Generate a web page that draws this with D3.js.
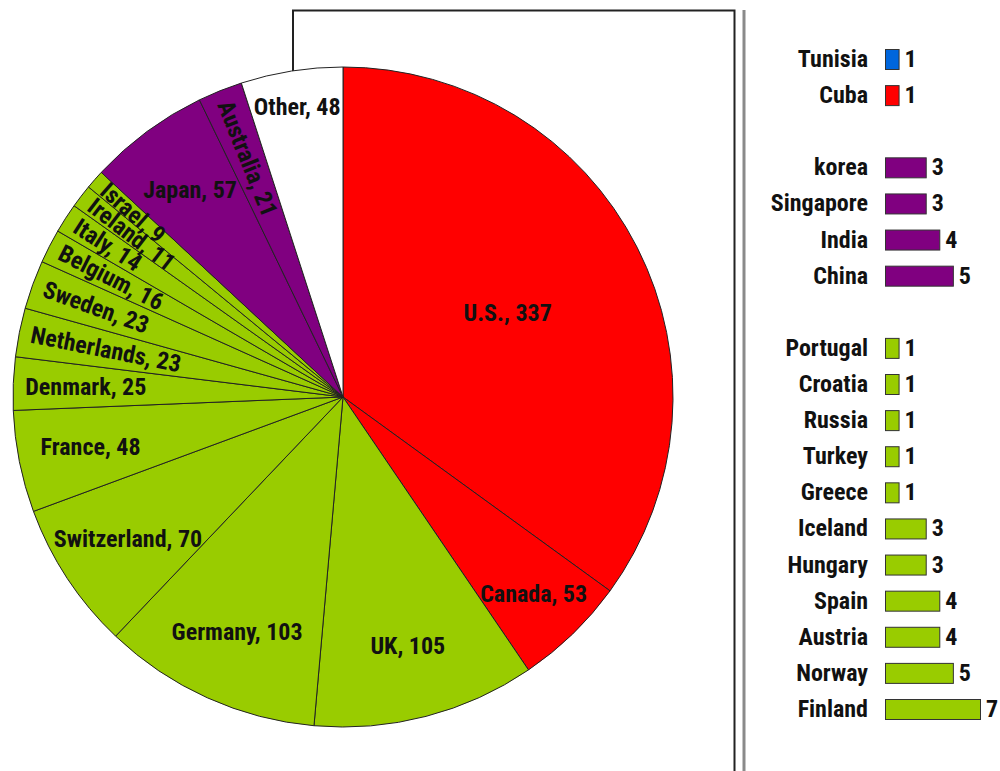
<!DOCTYPE html>
<html>
<head>
    <meta charset="utf-8">
    <title>Pie and bars by country</title>
    <script type="text/javascript" src="https://cdn.jsdelivr.net/npm/d3@7"></script>
    <style type="text/css">
        html, body {
            margin: 0;
            background: #fff;
        }
        svg {
            display: block;
        }
        text {
            font-family: "Liberation Sans Narrow", "Roboto Condensed", "DejaVu Sans Condensed", sans-serif;
            font-weight: bold;
            fill: #111;
        }
        .slice {
            stroke: #222;
            stroke-width: 1;
        }
        .bar {
            stroke: #333;
            stroke-width: 1;
        }
    </style>
</head>
<body>
<svg></svg>
<script type="text/javascript">
    // pie slices, clockwise from 12 o'clock
    var pieCountries = ["U.S.", "Canada", "UK", "Germany", "Switzerland", "France", "Denmark",
        "Netherlands", "Sweden", "Belgium", "Italy", "Ireland", "Israel", "Japan", "Australia", "Other"];
    var pieValues = [337, 53, 105, 103, 70, 48, 25, 23, 23, 16, 14, 11, 9, 57, 21, 48];
    var pieRegions = ["americas", "americas", "europe", "europe", "europe", "europe", "europe",
        "europe", "europe", "europe", "europe", "europe", "europe", "asia", "asia", "other"];

    // small countries, shown as bars on the right
    var barCountries = ["Tunisia", "Cuba", "korea", "Singapore", "India", "China",
        "Portugal", "Croatia", "Russia", "Turkey", "Greece", "Iceland", "Hungary",
        "Spain", "Austria", "Norway", "Finland"];
    var barValues = [1, 1, 3, 3, 4, 5, 1, 1, 1, 1, 1, 3, 3, 4, 4, 5, 7];
    var barRegions = ["africa", "americas", "asia", "asia", "asia", "asia",
        "europe", "europe", "europe", "europe", "europe", "europe", "europe",
        "europe", "europe", "europe", "europe"];

    var w = 1000, h = 771;
    var cx = 343, cy = 397, r = 330;

    var color = d3.scaleOrdinal()
        .domain(["americas", "europe", "asia", "other", "africa"])
        .range(["#ff0000", "#99cc00", "#800080", "#ffffff", "#0066dd"]);

    var svg = d3.select("svg")
        .attr("width", w)
        .attr("height", h);

    // frame behind the pie
    svg.append("path")
        .attr("d", "M293," + (cy - r + 10) + "V10.5H734.5V" + h)
        .attr("fill", "none")
        .attr("stroke", "#222")
        .attr("stroke-width", 2);
    svg.append("line")
        .attr("x1", 744).attr("x2", 744)
        .attr("y1", 10).attr("y2", h)
        .attr("stroke", "#8a8a8a")
        .attr("stroke-width", 3);

    var pie = d3.pie().sort(null).value(function(d){return d;});
    var arcs = pie(pieValues);
    var arc = d3.arc().innerRadius(0).outerRadius(r);

    var g = svg.append("g").attr("transform", "translate(" + cx + "," + cy + ")");

    g.selectAll(".slice")
        .data(arcs)
        .enter().append("path")
        .attr("class", "slice")
        .attr("fill", function(d, i){return color(pieRegions[i]);})
        .attr("d", arc);

    // a few labels sit off the default radius
    var labelRadius = {"U.S.": 0.56, "Canada": 0.83, "Other": 0.89};

    g.selectAll(".plabel")
        .data(arcs)
        .enter().append("text")
        .attr("class", "plabel")
        .style("font-size", "24px")
        .attr("dominant-baseline", "central")
        .each(function(d, i){
            var a = (d.startAngle + d.endAngle) / 2,
                t = d3.select(this).text(pieCountries[i] + ", " + d.value);
            if (d.value <= 23) {
                // narrow slices: text runs along the radius, toward the centre
                var R = r - 12;
                t.attr("text-anchor", "start")
                    .attr("transform", "translate(" + (Math.sin(a) * R) + "," + (-Math.cos(a) * R) + ")" +
                        " rotate(" + (a * 180 / Math.PI - 270) + ")");
            } else {
                var k = (labelRadius[pieCountries[i]] || 0.78) * r;
                t.attr("text-anchor", "middle")
                    .attr("x", Math.sin(a) * k)
                    .attr("y", -Math.cos(a) * k);
            }
        });

    // bars: one empty row between regions
    var rows = [], row = 0;
    barCountries.forEach(function(c, i){
        if (i > 0 && barRegions[i] !== barRegions[i - 1] && !(barRegions[i - 1] === "africa")) row++;
        rows.push(row);
        row++;
    });

    var y = d3.scaleLinear().domain([0, 18]).range([59, 709]);
    var x = d3.scaleLinear().domain([0, 7]).range([885, 980]);
    var bh = 20;

    var bars = svg.append("g").selectAll("g")
        .data(barValues)
        .enter().append("g")
        .attr("transform", function(d, i){return "translate(0," + y(rows[i]) + ")";});

    bars.append("rect")
        .attr("class", "bar")
        .attr("x", x(0) + 0.5)
        .attr("y", -bh / 2 + 0.5)
        .attr("width", function(d){return x(d) - x(0);})
        .attr("height", bh)
        .attr("fill", function(d, i){return color(barRegions[i]);});

    bars.append("text")
        .attr("x", 868)
        .attr("text-anchor", "end")
        .attr("dominant-baseline", "central")
        .style("font-size", "24px")
        .text(function(d, i){return barCountries[i];});

    bars.append("text")
        .attr("x", function(d){return x(d) + 6;})
        .attr("dominant-baseline", "central")
        .style("font-size", "24px")
        .text(function(d){return d;});
</script>
</body>
</html>
